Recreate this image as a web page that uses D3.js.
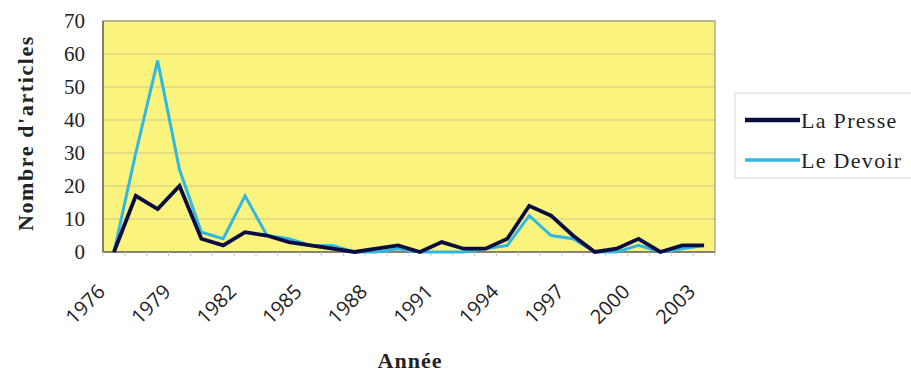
<!doctype html>
<html>
<head>
<meta charset="utf-8">
<script src="https://cdn.jsdelivr.net/npm/d3@7"></script>
<style>
  body { margin: 0; background: #fff; }
  svg { display: block; }
</style>
</head>
<body>
<svg width="911" height="373"></svg>
<script>
// data
let years = [1976,1977,1978,1979,1980,1981,1982,1983,1984,1985,1986,1987,1988,1989,
             1990,1991,1992,1993,1994,1995,1996,1997,1998,1999,2000,2001,2002,2003]
let laPresse = [0,17,13,20,4,2,6,5,3,2,1,0,1,2,0,3,1,1,4,14,11,5,0,1,4,0,2,2]
let leDevoir = [0,30,58,25,6,4,17,5,4,2,2,0,0,1,0,0,0,1,2,11,5,4,0,0,2,0,1,2]
let yTicks = [0,10,20,30,40,50,60,70]
let series = [
  { name: "La Presse", values: laPresse, color: "#0a0c42", width: 3.8 },
  { name: "Le Devoir", values: leDevoir, color: "#2fb8e4", width: 3 }
]

let serif = "'Liberation Serif', 'Times New Roman', Times, serif"
let svg = d3.select("svg")
let pLeft = 103, pRight = 715, pTop = 21, pBottom = 252

let x = d3.scalePoint().domain(years).range([pLeft, pRight]).padding(0.5)
let y = d3.scaleLinear().domain([0, 70]).range([pBottom, pTop])

// plot area
svg.append("rect")
    .attr("x", pLeft).attr("y", pTop)
    .attr("width", pRight - pLeft).attr("height", pBottom - pTop)
    .attr("fill", "#faf37e")

// gridlines
svg.append("g")
  .selectAll("line")
  .data(yTicks.slice(1))
  .enter().append("line")
    .attr("x1", pLeft).attr("x2", pRight)
    .attr("y1", d => y(d)).attr("y2", d => y(d))
    .attr("stroke", "#cfc68a")
    .attr("stroke-width", 1.2)

svg.append("rect")
    .attr("x", pLeft).attr("y", pTop)
    .attr("width", pRight - pLeft).attr("height", pBottom - pTop)
    .attr("fill", "none")
    .attr("stroke", "#9a9a88")
    .attr("stroke-width", 1.2)

// left and bottom axis lines a bit darker
svg.append("line").attr("x1", pLeft).attr("x2", pLeft).attr("y1", pTop).attr("y2", pBottom)
    .attr("stroke", "#6f6f60").attr("stroke-width", 1.5)
svg.append("line").attr("x1", pLeft).attr("x2", pRight).attr("y1", pBottom).attr("y2", pBottom)
    .attr("stroke", "#6f6f60").attr("stroke-width", 1.5)

// small ticks between categories
let step = x.step()
svg.append("g")
  .selectAll("line")
  .data(years.concat([2004]))
  .enter().append("line")
    .attr("x1", (d, i) => pLeft + i * step).attr("x2", (d, i) => pLeft + i * step)
    .attr("y1", pBottom).attr("y2", pBottom + 4)
    .attr("stroke", "#c8c8c8")

// y axis
let yAxis = svg.append("g")
    .attr("transform", `translate(${pLeft},0)`)
    .call(d3.axisLeft(y).tickValues(yTicks).tickSize(0).tickPadding(18))
yAxis.select(".domain").remove()
yAxis.selectAll("text")
    .style("font-family", serif)
    .style("font-size", "21px")
    .attr("fill", "#222")

// x axis
let xAxis = svg.append("g")
    .attr("transform", `translate(0,${pBottom})`)
    .call(d3.axisBottom(x).tickValues(years.filter((d, i) => i % 3 == 0)).tickSize(0))
xAxis.select(".domain").remove()
xAxis.selectAll("text")
    .style("font-family", "'Open Sans', sans-serif")
    .style("font-size", "20px")
    .attr("fill", "#222")
    .attr("text-anchor", "end")
    .attr("dy", 0)
    .attr("y", 0)
    .attr("transform", "translate(-8,41) rotate(-45)")

// lines
let line = d3.line()
    .x((d, i) => x(years[i]))
    .y(d => y(d))

svg.append("g")
  .selectAll("path")
  .data(series.slice().reverse())
  .enter().append("path")
    .attr("d", d => line(d.values))
    .attr("fill", "none")
    .attr("stroke", d => d.color)
    .attr("stroke-width", d => d.width)
    .attr("stroke-linejoin", "miter")

// axis titles
svg.append("text")
    .attr("transform", "translate(33,133) rotate(-90)")
    .attr("text-anchor", "middle")
    .style("font-family", serif)
    .style("font-size", "22px")
    .style("font-weight", "bold")
    .style("letter-spacing", "1.6px")
    .attr("fill", "#222")
    .text("Nombre d'articles")

svg.append("text")
    .attr("x", 410).attr("y", 368)
    .attr("text-anchor", "middle")
    .style("font-family", serif)
    .style("font-size", "22px")
    .style("font-weight", "bold")
    .style("letter-spacing", "1px")
    .attr("fill", "#222")
    .text("Année")

// legend
let legend = svg.append("g")
legend.append("rect")
    .attr("x", 735).attr("y", 93)
    .attr("width", 185).attr("height", 85)
    .attr("fill", "#fff")
    .attr("stroke", "#d8d8d8")

let items = legend.selectAll(".item")
  .data(series)
  .enter().append("g")
    .attr("class", "item")
    .attr("transform", (d, i) => `translate(0,${120 + i * 40})`)
items.append("line")
    .attr("x1", 745).attr("x2", 800)
    .attr("stroke", d => d.color)
    .attr("stroke-width", d => d.width + 0.5)
items.append("text")
    .attr("x", 801).attr("y", 8)
    .style("font-family", serif)
    .style("font-size", "22px")
    .style("letter-spacing", "1.3px")
    .attr("fill", "#222")
    .text(d => d.name)
</script>
</body>
</html>
